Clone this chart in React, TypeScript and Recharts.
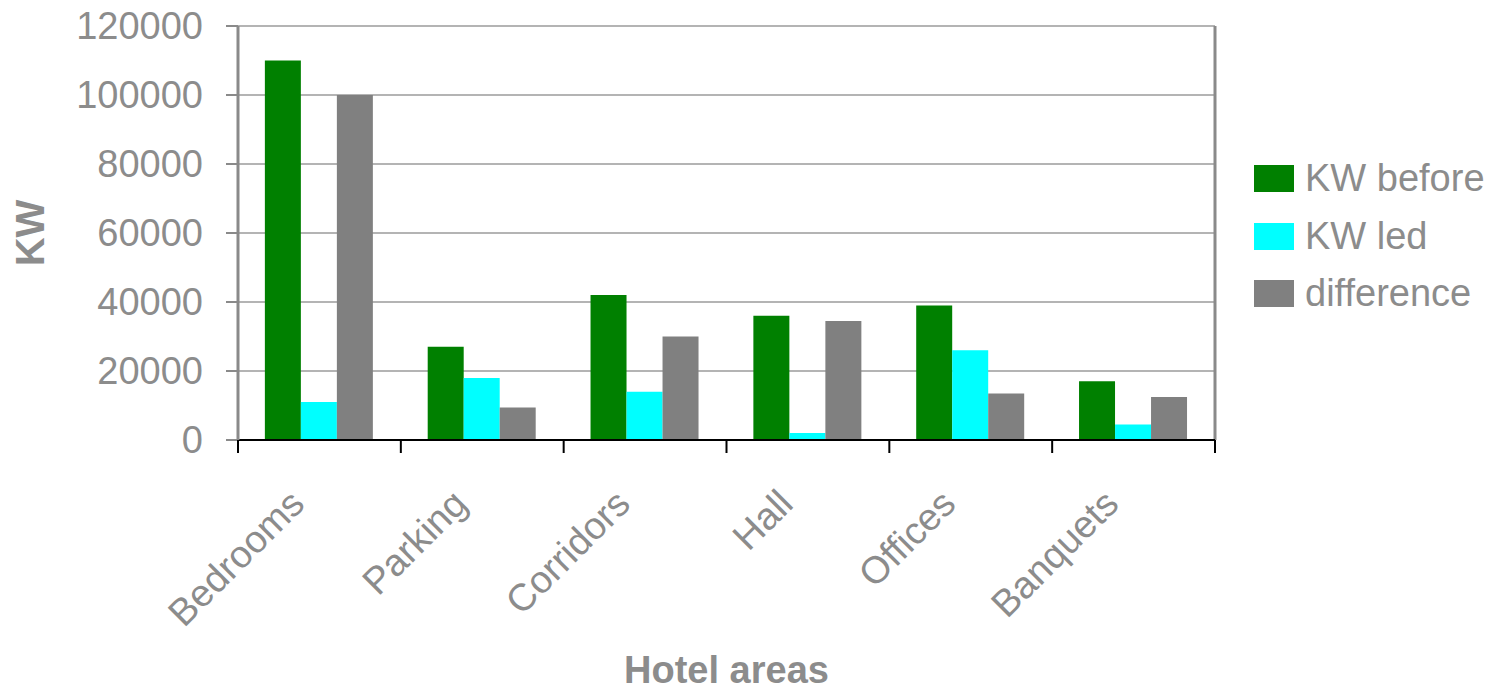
import { BarChart, Bar, XAxis, YAxis, CartesianGrid, Legend } from "recharts";

const areas = ["Bedrooms", "Parking", "Corridors", "Hall", "Offices", "Banquets"];
const kwBefore = [110000, 27000, 42000, 36000, 39000, 17000];
const kwLed = [11000, 18000, 14000, 2000, 26000, 4500];
const kwDiff = [100000, 9400, 30000, 34500, 13500, 12500];
const yTicks = [0, 20000, 40000, 60000, 80000, 100000, 120000];

const series = [
  { key: "before", name: "KW before", color: "#008000" },
  { key: "led", name: "KW led", color: "#00ffff" },
  { key: "diff", name: "difference", color: "#808080" },
];

const data = areas.map((area, i) => ({
  area,
  before: kwBefore[i],
  led: kwLed[i],
  diff: kwDiff[i],
}));

const FONT = "'Liberation Sans', Arial, sans-serif";
const GREY = "#8c8c8c";
const W = 1493;
const H = 692;
const PLOT_LEFT = 238;
const PLOT_RIGHT = 1215;
const HALF_BAND = (PLOT_RIGHT - PLOT_LEFT) / areas.length / 2;

function AreaTick(props: any) {
  const { x, y, payload } = props;
  const half = payload && payload.offset ? payload.offset : HALF_BAND;
  const ax = 440;
  const tx = x - 13;
  const ty = y + 58;
  const last = payload.index === areas.length - 1;
  return (
    <g>
      <line x1={x - half} x2={x - half} y1={ax} y2={ax + 13} stroke="#000" strokeWidth={2} />
      {last && (
        <line x1={x + half} x2={x + half} y1={ax} y2={ax + 13} stroke="#000" strokeWidth={2} />
      )}
      <text
        x={tx}
        y={ty}
        textAnchor="end"
        transform={`rotate(-45 ${tx} ${ty})`}
        fill={GREY}
        fontSize={38}
        fontFamily={FONT}
      >
        {payload.value}
      </text>
    </g>
  );
}

function LegendBox() {
  return (
    <div style={{ fontFamily: FONT }}>
      {series.map((s) => (
        <div
          key={s.key}
          style={{ display: "flex", alignItems: "center", height: 57.5 }}
        >
          <div
            style={{ width: 40, height: 27, background: s.color, marginRight: 11 }}
          />
          <span style={{ fontSize: 38, color: GREY, whiteSpace: "nowrap" }}>
            {s.name}
          </span>
        </div>
      ))}
    </div>
  );
}

export default function App() {
  return (
    <div style={{ position: "absolute", left: 0, top: 0, width: W, height: H, background: "#fff" }}>
      <BarChart
        width={W}
        height={H}
        data={data}
        margin={{ top: 26, right: W - PLOT_RIGHT, bottom: 0, left: 0 }}
        barCategoryGap="16.5%"
        barGap={0}
      >
        <CartesianGrid vertical={false} stroke="#b4b4b4" strokeWidth={2} />
        {/* right edge of the plot frame */}
        <CartesianGrid
          horizontal={false}
          verticalCoordinatesGenerator={({ offset }: any) => [offset.left + offset.width]}
          stroke="#8a8a8a"
          strokeWidth={3}
        />
        <XAxis
          dataKey="area"
          height={H - 440}
          axisLine={{ stroke: "#000", strokeWidth: 2 }}
          tickLine={false}
          tick={<AreaTick />}
          interval={0}
          label={{
            value: "Hotel areas",
            position: "insideBottom",
            offset: 9,
            fill: GREY,
            fontSize: 38,
            fontWeight: "bold",
            fontFamily: FONT,
          }}
        />
        <YAxis
          width={PLOT_LEFT}
          domain={[0, 120000]}
          ticks={yTicks}
          interval={0}
          axisLine={{ stroke: "#8a8a8a", strokeWidth: 3 }}
          tickLine={{ stroke: "#8a8a8a", strokeWidth: 2 }}
          tickSize={12}
          tickMargin={23}
          tick={{ fill: GREY, fontSize: 38, fontFamily: FONT }}
          label={{
            value: "KW",
            angle: -90,
            position: "insideLeft",
            offset: 30,
            fill: GREY,
            fontSize: 40,
            fontWeight: "bold",
            fontFamily: FONT,
            style: { textAnchor: "middle" },
          }}
        />
        <Legend
          layout="vertical"
          align="center"
          verticalAlign="middle"
          content={<LegendBox />}
          wrapperStyle={{ left: 1254, top: 150, width: 239 }}
        />
        {series.map((s) => (
          <Bar
            key={s.key}
            dataKey={s.key}
            name={s.name}
            fill={s.color}
            isAnimationActive={false}
          />
        ))}
      </BarChart>
    </div>
  );
}
